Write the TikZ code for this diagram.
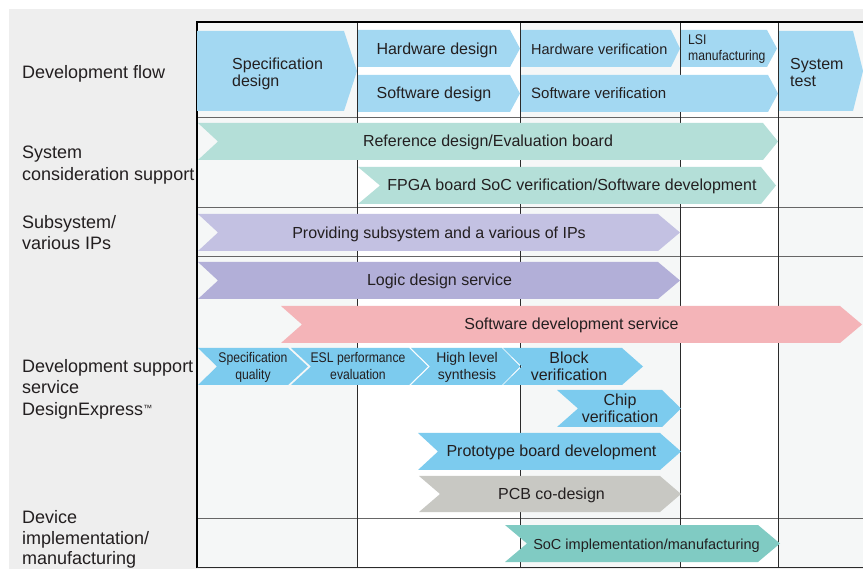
\documentclass[tikz,border=0pt]{standalone}
\usepackage{fontspec}
\setmainfont{Liberation Sans}
\newfontfamily\narrowfont[FakeStretch=0.87]{Liberation Sans}
\definecolor{txt}{HTML}{231F20}
\definecolor{panel}{HTML}{EEEEEE}
\definecolor{colA}{HTML}{F5F7F7}
\definecolor{flow}{HTML}{A3D8F2}
\definecolor{mint}{HTML}{B4DFD8}
\definecolor{lavA}{HTML}{C3C1E2}
\definecolor{lavB}{HTML}{B2AFD8}
\definecolor{pinkc}{HTML}{F4B4B8}
\definecolor{sky}{HTML}{7CCBEE}
\definecolor{grayc}{HTML}{C8C8C3}
\definecolor{tealc}{HTML}{80CBC3}
\definecolor{hgrid}{HTML}{666666}
\definecolor{vgrid}{HTML}{2A2A2A}
% #1 colour, #2 left x, #3 tip x, #4 top y, #5 bottom y, #6 notch depth, #7 tip depth
\newcommand\chevshape[7]{%
  \fill[#1] (#2,#4) -- ({#3-#7},#4) -- (#3,{(#4+#5)/2}) -- ({#3-#7},#5) -- (#2,#5) -- ({#2+#6},{(#4+#5)/2}) -- cycle;}
\tikzset{
  lbl/.style={anchor=north west, align=left, inner sep=0pt, text=txt,
    font=\fontsize{18}{21.5}\selectfont},
  atxt/.style={inner sep=0pt, text=txt, font=\fontsize{16}{17}\selectfont},
  ntxt/.style={inner sep=0pt, text=txt, font=\narrowfont\fontsize{14}{16.5}\selectfont},
  hline/.style={draw=hgrid, line width=1.2pt},
  vline/.style={draw=vgrid, line width=1pt},
  border/.style={draw=black, line width=1.4pt},
}
\begin{document}
\begin{tikzpicture}[x=1pt,y=-1pt]
\useasboundingbox (0,0) rectangle (863,569);
\clip (0,0) rectangle (863,569);
\fill[white] (0,0) rectangle (863,569);
\fill[panel] (9,9) rectangle (863,569);
% column backgrounds
\fill[colA] (197,22) rectangle (357,568);
\fill[white] (357,22) rectangle (520,568);
\fill[colA] (520,22) rectangle (680,568);
\fill[white] (680,22) rectangle (778,568);
\fill[colA] (778,22) rectangle (863,568);
% grid
\foreach \yy in {117.5,207.5,256.5,518.5} { \draw[hline] (197,\yy) -- (863,\yy); }
\foreach \xx in {357,520,680,778} { \draw[vline] (\xx,22) -- (\xx,568); }
\draw[border] (197,568) -- (197,22) -- (863,22);
\draw[draw=vgrid, line width=1.3pt] (197,567.6) -- (863,567.6);
% row 1: development flow
\chevshape{flow}{197}{357}{31}{111}{0}{13}
\chevshape{flow}{358}{520}{30}{67}{0}{10}
\chevshape{flow}{358}{520}{75}{112}{0}{10}
\chevshape{flow}{521}{680}{30}{67}{0}{9}
\chevshape{flow}{681}{777}{30}{67}{0}{10}
\chevshape{flow}{521}{778}{75}{112}{0}{10}
\chevshape{flow}{779}{863}{31}{111}{0}{10}
% row 2
\chevshape{mint}{198}{778}{123}{160}{20}{15}
\chevshape{mint}{358}{776}{167}{204}{22}{15}
% row 3
\chevshape{lavA}{198}{680}{214}{251}{20}{22}
% row 4
\chevshape{lavB}{198}{680}{262}{299}{20}{22}
\chevshape{pinkc}{281}{862}{306}{343}{21}{22}
\chevshape{sky}{198}{308}{348}{385}{19}{20}
\chevshape{sky}{291}{428}{348}{385}{20}{19}
\chevshape{sky}{411}{520}{348}{385}{19}{18}
\chevshape{sky}{503}{643}{348}{385}{19}{21}
\chevshape{sky}{557}{681}{390}{427}{21}{19}
\chevshape{sky}{418}{681}{433}{470}{20}{21}
\chevshape{grayc}{419}{681}{476}{512}{21}{21}
% row 5
\chevshape{tealc}{505}{780}{525}{562}{22}{22}
% left labels
\node[lbl] (l1) at (22,65.2) {Development flow};
\node[lbl] (l2) at (22,146.2) {System\\consideration support};
\node[lbl] (l3) at (22,215.2) {Subsystem/\\various IPs};
\node[lbl] (l4) at (22,359.2) {Development support\\service\\DesignExpress\raisebox{4pt}{\fontsize{9}{9}\selectfont ™}};
\node[lbl, font=\fontsize{18}{20.3}\selectfont] (l5) at (22,510.7) {Device\\implementation/\\manufacturing};
% row 1 texts
\node[atxt, anchor=north west, align=left] (tspec) at (232,58) {Specification\\design};
\node[atxt, anchor=base] (thw) at (437,54.7) {Hardware design};
\node[atxt, anchor=base] (tsw) at (434,98.7) {Software design};
\node[atxt, anchor=base west, font=\fontsize{14.5}{16}\selectfont] (thwv) at (531,54.2) {Hardware verification};
\node[atxt, anchor=base west, font=\fontsize{15}{16}\selectfont] (tswv) at (531,98.4) {Software verification};
\node[ntxt, anchor=north west, align=left] (tlsi) at (688,34.5) {LSI\\manufacturing};
\node[atxt, anchor=north west, align=left] (tsys) at (790,58) {System\\test};
% row 2-5 texts
\node[atxt, anchor=base] (tref) at (488,146.7) {Reference design/Evaluation board};
\node[atxt, anchor=base] (tfpga) at (572,190.7) {FPGA board SoC verification/Software development};
\node[atxt, anchor=base] (tprov) at (439,238.7) {Providing subsystem and a various of IPs};
\node[atxt, anchor=base] (tlogic) at (439.5,285.7) {Logic design service};
\node[atxt, anchor=base] (tswdev) at (571.5,329.7) {Software development service};
\node[ntxt, anchor=north, align=center] (tsq) at (253,352.5) {Specification\\quality};
\node[ntxt, anchor=north, align=center] (tesl) at (358,352.5) {ESL performance\\evaluation};
\node[atxt, anchor=north, align=center, font=\fontsize{14}{16.5}\selectfont] (thls) at (467,352.5) {High level\\synthesis};
\node[atxt, anchor=north, align=center] (tblock) at (569,352) {Block\\verification};
\node[atxt, anchor=north, align=center] (tchip) at (620,394) {Chip\\verification};
\node[atxt, anchor=base] (tproto) at (551.5,456.7) {Prototype board development};
\node[atxt, anchor=base] (tpcb) at (551.5,499.7) {PCB co-design};
\node[atxt, anchor=base, font=\fontsize{14.5}{16}\selectfont] (tsoc) at (646.5,549.2) {SoC implementation/manufacturing};
\end{tikzpicture}
\end{document}
